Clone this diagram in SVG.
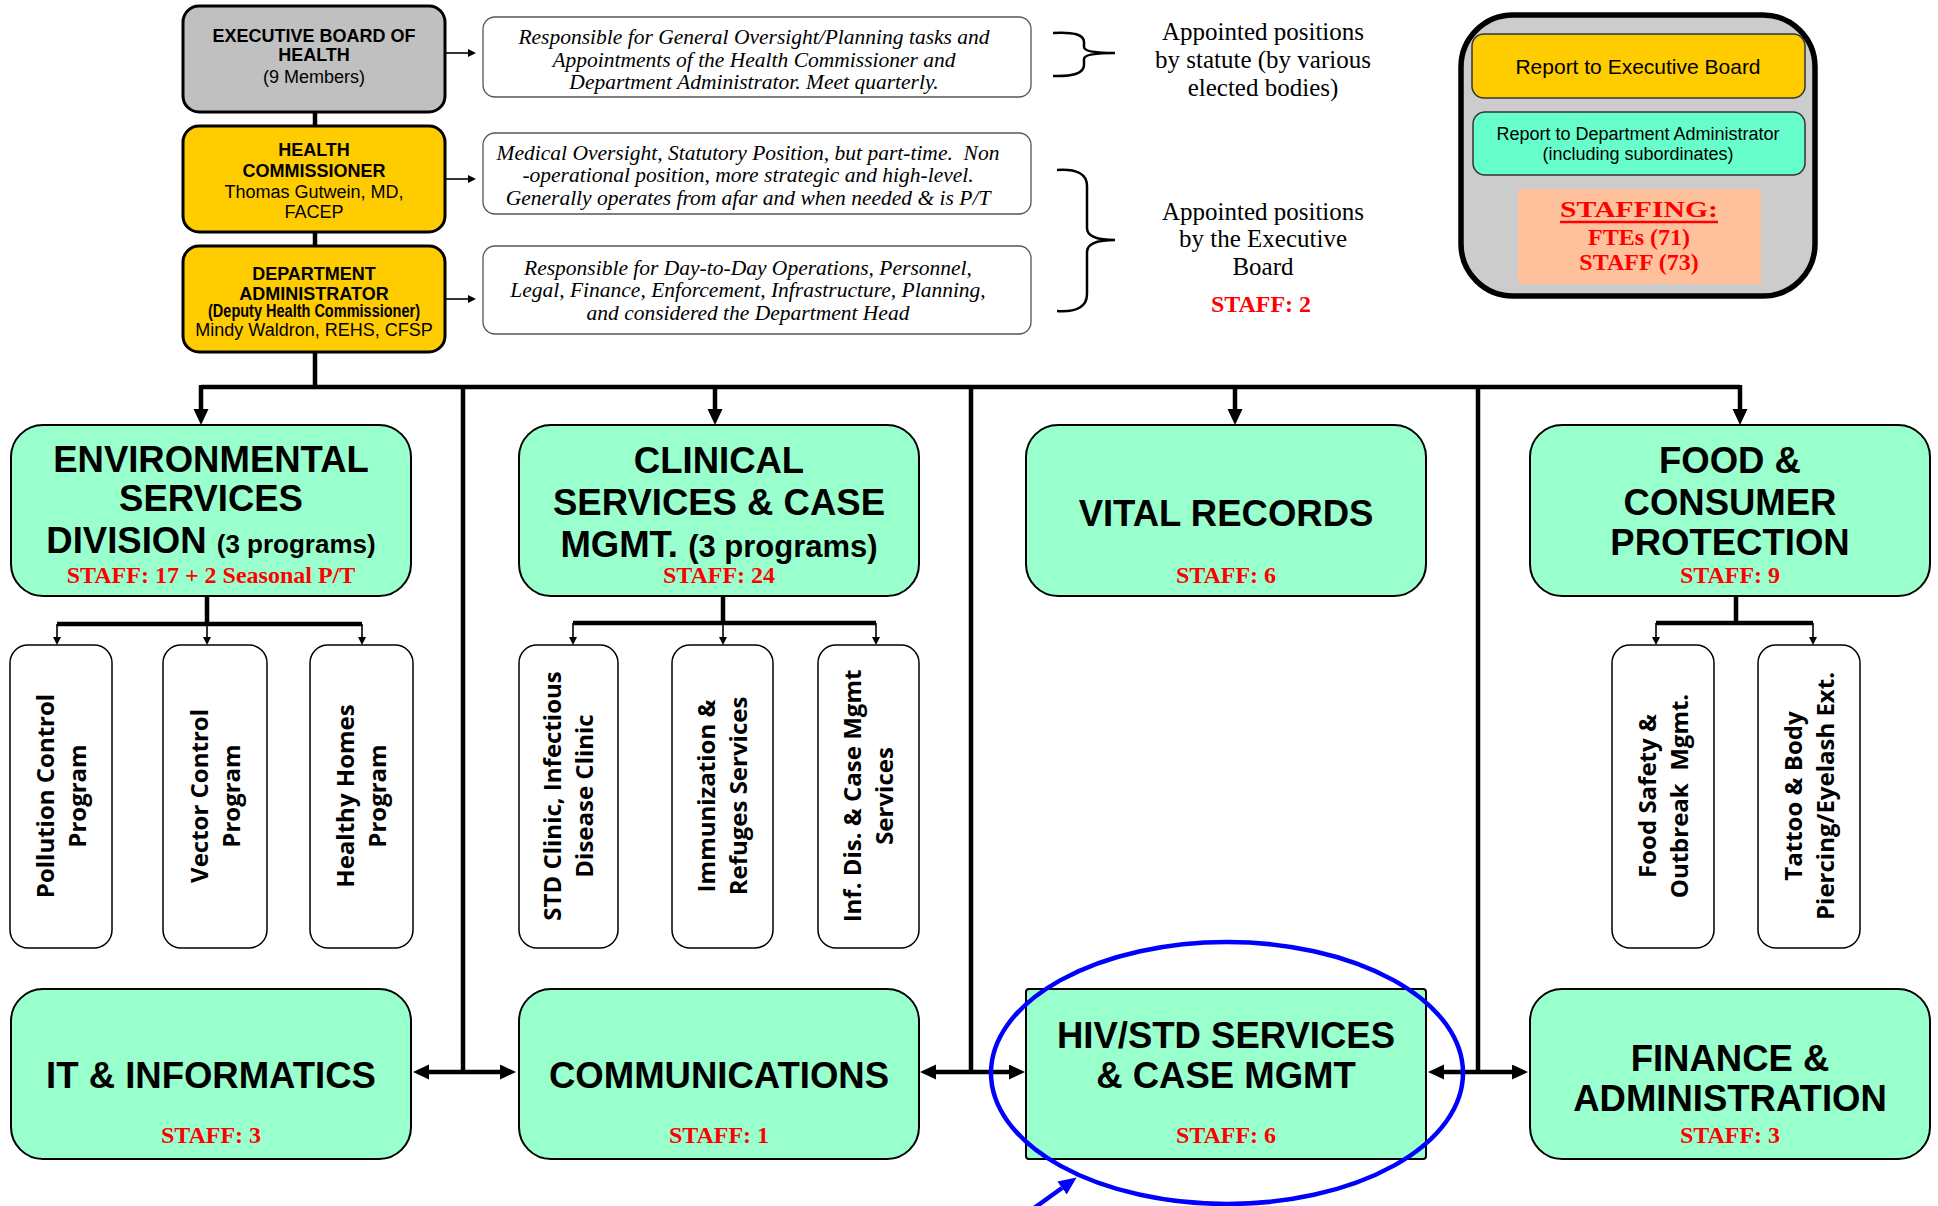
<svg xmlns="http://www.w3.org/2000/svg" width="1938" height="1206" viewBox="0 0 1938 1206">
<defs>
<style>
.sans{font-family:'Liberation Sans',Arial,sans-serif}
.serif{font-family:'Liberation Serif','Times New Roman',serif}
.mid{text-anchor:middle}
.box{fill:#99ffcc;stroke:#000;stroke-width:2}
.sub{fill:#fff;stroke:#000;stroke-width:1.5}
.desc{fill:#fff;stroke:#555;stroke-width:1.3}
.top{stroke:#000;stroke-width:3}
.big{font-family:'Liberation Sans',Arial,sans-serif;font-weight:bold;font-size:36.5px;text-anchor:middle;fill:#000}
.staff{font-family:'Liberation Serif','Times New Roman',serif;font-weight:bold;font-size:24px;fill:#ff0000;text-anchor:middle}
.it{font-family:'Liberation Serif','Times New Roman',serif;font-style:italic;font-size:21.5px;text-anchor:middle;white-space:pre}
.apt{font-family:'Liberation Serif','Times New Roman',serif;font-size:25px;text-anchor:middle}
.hd{font-family:'Liberation Sans',Arial,sans-serif;font-weight:bold;font-size:18px;text-anchor:middle}
.nm{font-family:'Liberation Sans',Arial,sans-serif;font-size:18px;text-anchor:middle}
.vt{font-family:'Open Sans','DejaVu Sans',sans-serif;font-weight:bold;font-size:24px;text-anchor:middle;white-space:pre}
.thick{stroke:#000;stroke-width:4.5;fill:none}
.thin{stroke:#000;stroke-width:1.6;fill:none}
.brace{stroke:#000;stroke-width:2.5;fill:none}
</style>
<marker id="ah" markerWidth="16" markerHeight="16" refX="0" refY="7.5" orient="auto-start-reverse" markerUnits="userSpaceOnUse"><path d="M0,0 L16,7.5 L0,15 z" fill="#000"/></marker>
<marker id="as" markerWidth="10" markerHeight="10" refX="0" refY="4" orient="auto" markerUnits="userSpaceOnUse"><path d="M0,0 L8,4 L0,8 z" fill="#000"/></marker>
<marker id="ab" markerWidth="20" markerHeight="20" refX="0" refY="8" orient="auto" markerUnits="userSpaceOnUse"><path d="M0,0 L18,8 L0,16 z" fill="#0000ff"/></marker>
</defs>
<rect width="1938" height="1206" fill="#fff"/>

<g id="connectors">
<line x1="315" y1="112" x2="315" y2="389" class="thick"/>
<path d="M201,387 H1740" class="thick"/>
<line x1="201" y1="385" x2="201" y2="409" class="thick" marker-end="url(#ah)"/>
<line x1="715" y1="387" x2="715" y2="409" class="thick" marker-end="url(#ah)"/>
<line x1="1235" y1="387" x2="1235" y2="409" class="thick" marker-end="url(#ah)"/>
<line x1="1740" y1="385" x2="1740" y2="409" class="thick" marker-end="url(#ah)"/>
<line x1="463" y1="387" x2="463" y2="1074" class="thick"/>
<line x1="971" y1="387" x2="971" y2="1074" class="thick"/>
<line x1="1478" y1="387" x2="1478" y2="1074" class="thick"/>
<line x1="429" y1="1072" x2="500" y2="1072" class="thick" marker-start="url(#ah)" marker-end="url(#ah)"/>
<line x1="936" y1="1072" x2="1009" y2="1072" class="thick" marker-start="url(#ah)" marker-end="url(#ah)"/>
<line x1="1444" y1="1072" x2="1512" y2="1072" class="thick" marker-start="url(#ah)" marker-end="url(#ah)"/>
<line x1="446" y1="53" x2="468" y2="53" class="thin" marker-end="url(#as)"/>
<line x1="446" y1="179" x2="468" y2="179" class="thin" marker-end="url(#as)"/>
<line x1="446" y1="299" x2="468" y2="299" class="thin" marker-end="url(#as)"/>
<line x1="207" y1="596" x2="207" y2="624" class="thick"/>
<line x1="57" y1="624" x2="362" y2="624" class="thick"/>
<line x1="57" y1="624" x2="57" y2="637" class="thin" marker-end="url(#as)"/>
<line x1="207" y1="624" x2="207" y2="637" class="thin" marker-end="url(#as)"/>
<line x1="362" y1="624" x2="362" y2="637" class="thin" marker-end="url(#as)"/>
<line x1="723" y1="597" x2="723" y2="623" class="thick"/>
<line x1="573" y1="623" x2="876" y2="623" class="thick"/>
<line x1="573" y1="623" x2="573" y2="637" class="thin" marker-end="url(#as)"/>
<line x1="723" y1="623" x2="723" y2="637" class="thin" marker-end="url(#as)"/>
<line x1="876" y1="623" x2="876" y2="637" class="thin" marker-end="url(#as)"/>
<line x1="1736" y1="596" x2="1736" y2="623" class="thick"/>
<line x1="1656" y1="623" x2="1813" y2="623" class="thick"/>
<line x1="1656" y1="623" x2="1656" y2="637" class="thin" marker-end="url(#as)"/>
<line x1="1813" y1="623" x2="1813" y2="637" class="thin" marker-end="url(#as)"/>
<path class="brace" d="M1053,33 Q1084,31 1084,42 L1084,47 Q1084,53 1115,53 Q1084,53 1084,59 L1084,65 Q1084,77 1053,76"/>
<path class="brace" d="M1057,170 Q1087,168 1087,186 L1087,228 Q1087,240 1115,240 Q1087,240 1087,252 L1087,294 Q1087,313 1057,311"/>
</g>

<g id="exec-board">
<rect x="183" y="6" width="262" height="106" rx="16" fill="#c0c0c0" class="top"/>
<text class="hd" x="314" y="41.5">EXECUTIVE BOARD OF</text>
<text class="hd" x="314" y="60.5">HEALTH</text>
<text class="nm" x="314" y="82.5">(9 Members)</text>
</g>
<g id="health-commissioner">
<rect x="183" y="126" width="262" height="106" rx="16" fill="#ffcc00" class="top"/>
<text class="hd" x="314" y="155.5">HEALTH</text>
<text class="hd" x="314" y="176.5">COMMISSIONER</text>
<text class="nm" x="314" y="197.5">Thomas Gutwein, MD,</text>
<text class="nm" x="314" y="217.5">FACEP</text>
</g>
<g id="dept-admin">
<rect x="183" y="246" width="262" height="106" rx="16" fill="#ffcc00" class="top"/>
<text class="hd" x="314" y="279.5">DEPARTMENT</text>
<text class="hd" x="314" y="299.5">ADMINISTRATOR</text>
<text class="hd" x="314" y="317" font-size="13.5" textLength="212" lengthAdjust="spacingAndGlyphs">(Deputy Health Commissioner)</text>
<text class="nm" x="314" y="335.5">Mindy Waldron, REHS, CFSP</text>
</g>

<g id="desc-board">
<rect x="483" y="17" width="548" height="80" rx="12" class="desc"/>
<text class="it" x="754" y="44">Responsible for General Oversight/Planning tasks and</text>
<text class="it" x="754" y="66.5">Appointments of the Health Commissioner and</text>
<text class="it" x="754" y="89">Department Administrator. Meet quarterly.</text>
</g>
<g id="desc-commissioner">
<rect x="483" y="133" width="548" height="81" rx="12" class="desc"/>
<text class="it" x="748" y="159.5">Medical Oversight, Statutory Position, but part-time.  Non</text>
<text class="it" x="748" y="181.5">-operational position, more strategic and high-level.</text>
<text class="it" x="748" y="204.5">Generally operates from afar and when needed &amp; is P/T</text>
</g>
<g id="desc-admin">
<rect x="483" y="246" width="548" height="88" rx="12" class="desc"/>
<text class="it" x="748" y="274.5">Responsible for Day-to-Day Operations, Personnel,</text>
<text class="it" x="748" y="296.5">Legal, Finance, Enforcement, Infrastructure, Planning,</text>
<text class="it" x="748" y="319.5">and considered the Department Head</text>
</g>

<g id="note-statute">
<text class="apt" x="1263" y="40">Appointed positions</text>
<text class="apt" x="1263" y="68">by statute (by various</text>
<text class="apt" x="1263" y="96">elected bodies)</text>
</g>
<g id="note-board">
<text class="apt" x="1263" y="220">Appointed positions</text>
<text class="apt" x="1263" y="247">by the Executive</text>
<text class="apt" x="1263" y="275">Board</text>
<text class="staff" x="1261" y="312">STAFF: 2</text>
</g>

<g id="legend">
<rect x="1461" y="15" width="354" height="281" rx="52" fill="#cccccc" stroke="#000" stroke-width="5.5"/>
<rect x="1472" y="34" width="333" height="64" rx="12" fill="#ffcc00" stroke="#333" stroke-width="1.5"/>
<text class="sans mid" x="1638" y="73.5" font-size="21">Report to Executive Board</text>
<rect x="1473" y="112" width="332" height="63" rx="12" fill="#66ffcc" stroke="#333" stroke-width="1.5"/>
<text class="sans mid" x="1638" y="139.5" font-size="18">Report to Department Administrator</text>
<text class="sans mid" x="1638" y="159.5" font-size="18">(including subordinates)</text>
<rect x="1518" y="189" width="243" height="95" fill="#ffc19b"/>
<text class="staff" x="1639" y="217" font-size="30" textLength="158" lengthAdjust="spacingAndGlyphs">STAFFING:</text>
<line x1="1560" y1="222" x2="1718" y2="222" stroke="#ff0000" stroke-width="2.5"/>
<text class="staff" x="1639" y="244.5">FTEs (71)</text>
<text class="staff" x="1639" y="269.5">STAFF (73)</text>
</g>

<g id="env-services">
<rect x="11" y="425" width="400" height="171" rx="32" class="box"/>
<text class="big" x="211" y="472">ENVIRONMENTAL</text>
<text class="big" x="211" y="511">SERVICES</text>
<text class="big" x="211" y="553">DIVISION <tspan font-size="26">(3 programs)</tspan></text>
<text class="staff" x="211" y="583">STAFF: 17 + 2 Seasonal P/T</text>
</g>
<g id="clinical-services">
<rect x="519" y="425" width="400" height="171" rx="32" class="box"/>
<text class="big" x="719" y="473">CLINICAL</text>
<text class="big" x="719" y="515">SERVICES &amp; CASE</text>
<text class="big" x="719" y="557">MGMT. <tspan font-size="31">(3 programs)</tspan></text>
<text class="staff" x="719" y="583">STAFF: 24</text>
</g>
<g id="vital-records">
<rect x="1026" y="425" width="400" height="171" rx="32" class="box"/>
<text class="big" x="1226" y="526">VITAL RECORDS</text>
<text class="staff" x="1226" y="583">STAFF: 6</text>
</g>
<g id="food-consumer">
<rect x="1530" y="425" width="400" height="171" rx="32" class="box"/>
<text class="big" x="1730" y="473">FOOD &amp;</text>
<text class="big" x="1730" y="515">CONSUMER</text>
<text class="big" x="1730" y="555">PROTECTION</text>
<text class="staff" x="1730" y="583">STAFF: 9</text>
</g>

<g id="pollution-control">
<rect x="10" y="645" width="102" height="303" rx="18" class="sub"/>
<text class="vt" transform="translate(61,796) rotate(-90)"><tspan x="0" y="-7">Pollution Control</tspan><tspan x="0" y="25">Program</tspan></text>
</g>
<g id="vector-control">
<rect x="163" y="645" width="104" height="303" rx="18" class="sub"/>
<text class="vt" transform="translate(215,796) rotate(-90)"><tspan x="0" y="-7">Vector Control</tspan><tspan x="0" y="25">Program</tspan></text>
</g>
<g id="healthy-homes">
<rect x="310" y="645" width="103" height="303" rx="18" class="sub"/>
<text class="vt" transform="translate(361,796) rotate(-90)"><tspan x="0" y="-7">Healthy Homes</tspan><tspan x="0" y="25">Program</tspan></text>
</g>
<g id="std-clinic">
<rect x="519" y="645" width="99" height="303" rx="18" class="sub"/>
<text class="vt" transform="translate(568,796) rotate(-90)"><tspan x="0" y="-7">STD Clinic, Infectious</tspan><tspan x="0" y="25">Disease Clinic</tspan></text>
</g>
<g id="immunization">
<rect x="672" y="645" width="101" height="303" rx="18" class="sub"/>
<text class="vt" transform="translate(722,796) rotate(-90)"><tspan x="0" y="-7">Immunization &amp;</tspan><tspan x="0" y="25">Refuges Services</tspan></text>
</g>
<g id="inf-dis">
<rect x="818" y="645" width="101" height="303" rx="18" class="sub"/>
<text class="vt" transform="translate(868,796) rotate(-90)"><tspan x="0" y="-7">Inf. Dis. &amp; Case Mgmt</tspan><tspan x="0" y="25">Services</tspan></text>
</g>
<g id="food-safety">
<rect x="1612" y="645" width="102" height="303" rx="18" class="sub"/>
<text class="vt" transform="translate(1663,796) rotate(-90)"><tspan x="0" y="-7">Food Safety &amp;</tspan><tspan x="0" y="25">Outbreak  Mgmt.</tspan></text>
</g>
<g id="tattoo">
<rect x="1758" y="645" width="102" height="303" rx="18" class="sub"/>
<text class="vt" transform="translate(1809,796) rotate(-90)"><tspan x="0" y="-7">Tattoo &amp; Body</tspan><tspan x="0" y="25">Piercing/Eyelash Ext.</tspan></text>
</g>

<g id="it-informatics">
<rect x="11" y="989" width="400" height="170" rx="32" class="box"/>
<text class="big" x="211" y="1088">IT &amp; INFORMATICS</text>
<text class="staff" x="211" y="1143">STAFF: 3</text>
</g>
<g id="communications">
<rect x="519" y="989" width="400" height="170" rx="32" class="box"/>
<text class="big" x="719" y="1088">COMMUNICATIONS</text>
<text class="staff" x="719" y="1143">STAFF: 1</text>
</g>
<g id="hiv-std">
<rect x="1026" y="989" width="400" height="170" rx="3" class="box"/>
<text class="big" x="1226" y="1048">HIV/STD SERVICES</text>
<text class="big" x="1226" y="1088">&amp; CASE MGMT</text>
<text class="staff" x="1226" y="1143">STAFF: 6</text>
</g>
<g id="finance-admin">
<rect x="1530" y="989" width="400" height="170" rx="32" class="box"/>
<text class="big" x="1730" y="1071">FINANCE &amp;</text>
<text class="big" x="1730" y="1111">ADMINISTRATION</text>
<text class="staff" x="1730" y="1143">STAFF: 3</text>
</g>

<g id="highlight">
<ellipse cx="1227" cy="1073" rx="236" ry="131" fill="none" stroke="#0000ff" stroke-width="4.5"/>
<line x1="1030" y1="1211" x2="1062" y2="1188" stroke="#0000ff" stroke-width="4.5" marker-end="url(#ab)"/>
</g>
</svg>
